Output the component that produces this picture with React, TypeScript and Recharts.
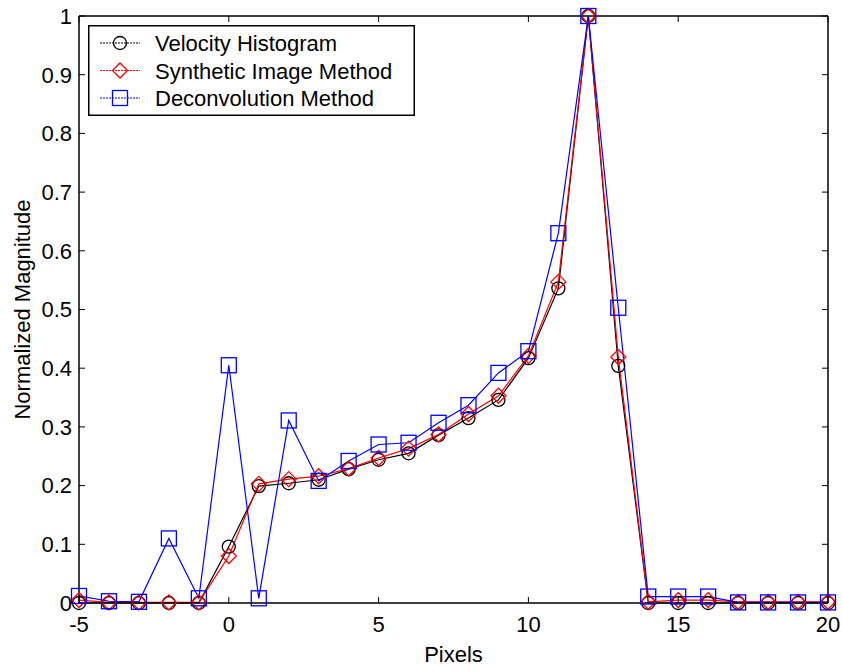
import { LineChart, Line, XAxis, YAxis, Legend } from "recharts"

const pixels = [-5, -4, -3, -2, -1, 0, 1, 2, 3, 4, 5, 6, 7, 8, 9, 10, 11, 12, 13, 14, 15, 16, 17, 18, 19, 20]
const velocityHistogram = [0, 0, 0, 0, 0, 0.096, 0.199, 0.204, 0.21, 0.228, 0.244, 0.255, 0.286, 0.315, 0.346, 0.417, 0.536, 1.0, 0.404, 0, 0, 0, 0, 0, 0, 0]
const syntheticImage = [0.005, 0.001, 0.001, 0.001, 0.001, 0.08, 0.203, 0.211, 0.216, 0.229, 0.247, 0.263, 0.287, 0.322, 0.353, 0.421, 0.547, 1.0, 0.419, 0.002, 0.005, 0.005, 0.002, 0.002, 0.002, 0.002]
const deconvolution = [0.012, 0.003, 0.002, 0.11, 0.008, 0.405, 0.008, 0.311, 0.208, 0.242, 0.27, 0.273, 0.307, 0.337, 0.392, 0.429, 0.63, 1.0, 0.503, 0.011, 0.011, 0.011, 0.001, 0.001, 0.001, 0.001]

const xTicks = [-5, 0, 5, 10, 15, 20]
const yTicks = [0, 0.1, 0.2, 0.3, 0.4, 0.5, 0.6, 0.7, 0.8, 0.9, 1]

const seriesNames = ["Velocity Histogram", "Synthetic Image Method", "Deconvolution Method"]

const data = pixels.map((x, i) => ({
  x,
  vel: velocityHistogram[i],
  syn: syntheticImage[i],
  dec: deconvolution[i],
}))

const FONT = "Arial, 'Liberation Sans', sans-serif"
const FS = 22

function CircleDot(props: any) {
  const { cx, cy, index } = props
  return <circle key={`c-${index}`} cx={cx} cy={cy} r={6.5} fill="none" stroke="#000" strokeWidth={1.3} />
}

function DiamondDot(props: any) {
  const { cx, cy, index } = props
  const s = 7.5
  return (
    <polygon
      key={`d-${index}`}
      points={`${cx},${cy - s} ${cx + s},${cy} ${cx},${cy + s} ${cx - s},${cy}`}
      fill="none"
      stroke="#f00"
      strokeWidth={1.3}
    />
  )
}

function SquareDot(props: any) {
  const { cx, cy, index } = props
  const s = 7.5
  return <rect key={`s-${index}`} x={cx - s} y={cy - s} width={2 * s} height={2 * s} fill="none" stroke="#00f" strokeWidth={1.3} />
}

function LegendBox() {
  const rows = [
    { color: "#000", marker: (cx: number, cy: number) => <circle cx={cx} cy={cy} r={6.5} fill="none" stroke="#000" strokeWidth={1.3} /> },
    {
      color: "#f00",
      marker: (cx: number, cy: number) => (
        <polygon points={`${cx},${cy - 7.5} ${cx + 7.5},${cy} ${cx},${cy + 7.5} ${cx - 7.5},${cy}`} fill="none" stroke="#f00" strokeWidth={1.3} />
      ),
    },
    { color: "#00f", marker: (cx: number, cy: number) => <rect x={cx - 7.5} y={cy - 7.5} width={15} height={15} fill="none" stroke="#00f" strokeWidth={1.3} /> },
  ]
  return (
    <svg width={327} height={91} style={{ display: "block" }}>
      <rect x={0.75} y={0.75} width={325.5} height={89.5} fill="#fff" stroke="#000" strokeWidth={1.5} />
      {rows.map((r, i) => {
        const cy = 18 + i * 27.5
        return (
          <g key={i}>
            <line x1={12} x2={52} y1={cy} y2={cy} stroke={r.color} strokeWidth={1.2} strokeDasharray="2 1" />
            {r.marker(32, cy)}
            <text x={67} y={cy + 8} fontFamily={FONT} fontSize={FS} fill="#000">
              {seriesNames[i]}
            </text>
          </g>
        )
      })}
    </svg>
  )
}

export default function App() {
  const tickStyle = { fontFamily: FONT, fontSize: FS, fill: "#000" }
  const axisLine = { stroke: "#000", strokeWidth: 1.5 }
  const tickLine = { stroke: "#000", strokeWidth: 1 }
  return (
    <div style={{ position: "absolute", left: 0, top: 0, width: 842, height: 671, background: "#fff" }}>
      <LineChart width={842} height={671} data={data} margin={{ top: 15, right: 13, bottom: 0, left: 0 }}>
        <XAxis
          dataKey="x"
          type="number"
          domain={[-5, 20]}
          ticks={xTicks}
          height={68}
          tickSize={-6}
          tickMargin={19}
          tick={tickStyle}
          axisLine={axisLine}
          tickLine={tickLine}
          label={{ value: "Pixels", position: "insideBottom", offset: 9, style: { fontFamily: FONT, fontSize: FS, fill: "#000" } }}
        />
        <XAxis
          xAxisId="top"
          dataKey="x"
          type="number"
          orientation="top"
          domain={[-5, 20]}
          ticks={xTicks}
          height={1}
          tickSize={-6}
          tickFormatter={() => ""}
          axisLine={axisLine}
          tickLine={tickLine}
        />
        <YAxis
          type="number"
          domain={[0, 1]}
          ticks={yTicks}
          width={79}
          tickSize={-6}
          tickMargin={13}
          tick={tickStyle}
          axisLine={axisLine}
          tickLine={tickLine}
          label={{
            value: "Normalized Magnitude",
            angle: -90,
            position: "insideLeft",
            offset: 22,
            style: { fontFamily: FONT, fontSize: FS, fill: "#000", textAnchor: "middle" },
          }}
        />
        <YAxis
          yAxisId="right"
          type="number"
          orientation="right"
          domain={[0, 1]}
          ticks={yTicks}
          width={1}
          tickSize={-6}
          tickFormatter={() => ""}
          axisLine={axisLine}
          tickLine={tickLine}
        />
        {/* invisible series so the frame axes (top/right) get drawn */}
        <Line
          xAxisId="top"
          yAxisId="right"
          dataKey="vel"
          stroke="none"
          dot={false}
          activeDot={false}
          legendType="none"
          isAnimationActive={false}
        />
        <Line dataKey="vel" name={seriesNames[0]} stroke="#000" strokeWidth={1.2} dot={CircleDot} isAnimationActive={false} />
        <Line dataKey="syn" name={seriesNames[1]} stroke="#f00" strokeWidth={1.2} dot={DiamondDot} isAnimationActive={false} />
        <Line dataKey="dec" name={seriesNames[2]} stroke="#00f" strokeWidth={1.2} dot={SquareDot} isAnimationActive={false} />
        <Legend
          layout="vertical"
          align="center"
          verticalAlign="middle"
          wrapperStyle={{ top: 25, left: 88, width: 327, height: 91 }}
          content={() => <LegendBox />}
        />
      </LineChart>
    </div>
  )
}
